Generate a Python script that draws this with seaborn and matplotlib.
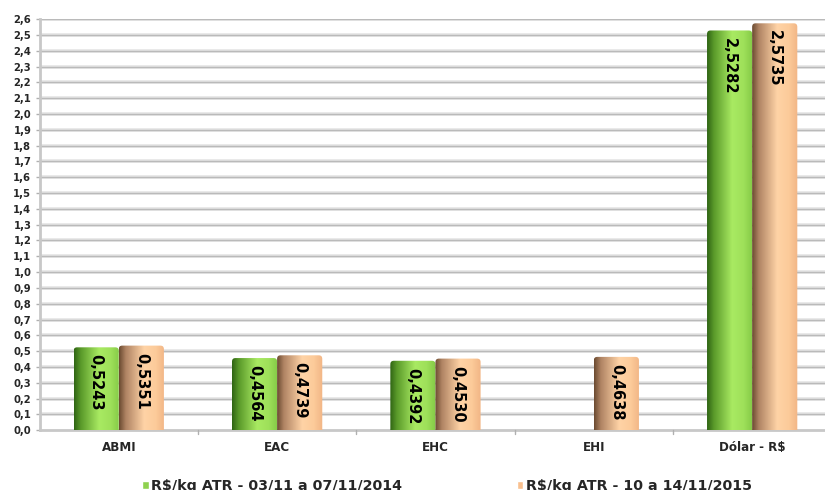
import numpy as np
import pandas as pd
import matplotlib
matplotlib.use("Agg")
import matplotlib.pyplot as plt
import seaborn as sns
from matplotlib.colors import LinearSegmentedColormap
from matplotlib.patches import Patch, FancyBboxPatch

categories = ["ABMI", "EAC", "EHC", "EHI", "Dólar - R$"]
series_names = ["R$/kg ATR - 03/11 a 07/11/2014", "R$/kg ATR - 10 a 14/11/2015"]
values_2014 = [0.5243, 0.4564, 0.4392, np.nan, 2.5282]
values_2015 = [0.5351, 0.4739, 0.4530, 0.4638, 2.5735]
yticks = [round(i * 0.1, 1) for i in range(27)]

df = pd.DataFrame({
    "cat": categories * 2,
    "serie": [series_names[0]] * 5 + [series_names[1]] * 5,
    "val": values_2014 + values_2015,
})

sns.set_theme(style="white")
plt.rcParams["font.family"] = ["DejaVu Sans"]

fig = plt.figure(figsize=(8.25, 4.9), dpi=100)
ax = fig.add_axes([0.048, 0.122, 0.952, 0.839])

palette = {series_names[0]: "#8fd14f", series_names[1]: "#f9c08f"}
sns.barplot(data=df, x="cat", y="val", hue="serie", order=categories,
            hue_order=series_names, palette=palette, width=0.57,
            ax=ax, legend=False, saturation=1, zorder=3)

ax.set_ylim(0, 2.6)
ax.set_xlim(-0.5, 4.46)
ax.set_yticks(yticks)
ax.set_yticklabels([f"{t:.1f}".replace(".", ",") for t in yticks],
                   fontsize=7.2, fontweight="bold")
ax.set_xticks(range(5))
ax.set_xticklabels(categories, fontsize=8.6, fontweight="bold")
ax.tick_params(axis="x", length=0, pad=8)
ax.tick_params(axis="y", length=3, width=1, color="#b0b0b0", direction="out", pad=3, left=True)
for b in [0.5, 1.5, 2.5, 3.5]:
    ax.plot([b, b], [0, -0.025], color="#b0b0b0", lw=1, clip_on=False, zorder=4)
ax.set_xlabel("")
ax.set_ylabel("")
ax.grid(False)
for t in yticks[1:]:
    ax.axhline(t, color="#e4e4e4", lw=2.6, zorder=1)
    ax.axhline(t, color="#bababa", lw=1.0, zorder=1)
for s in ["top", "right"]:
    ax.spines[s].set_visible(False)
ax.spines["left"].set_color("#c8c8c8")
ax.spines["left"].set_linewidth(2)
ax.spines["bottom"].set_color("#c8c8c8")
ax.spines["bottom"].set_linewidth(2)

cmaps = [
    LinearSegmentedColormap.from_list("g", [(0, "#2f6414"), (0.15, "#5a9a2a"), (0.55, "#a9ea62"), (0.8, "#9ee05a"), (1, "#84c946")]),
    LinearSegmentedColormap.from_list("o", [(0, "#6a4a30"), (0.15, "#b08464"), (0.55, "#ffd3a6"), (0.8, "#fccb9a"), (1, "#f2b585")]),
]
grad = np.linspace(0, 1, 256).reshape(1, -1)
for ci, cont in enumerate(ax.containers):
    for p in cont.patches:
        h = p.get_height()
        if not np.isfinite(h) or h == 0:
            continue
        x0, w = p.get_x(), p.get_width()
        p.set_alpha(0)
        clip = FancyBboxPatch((x0, -0.05), w, h + 0.05,
                              boxstyle="round,pad=0,rounding_size=0.022",
                              transform=ax.transData, facecolor="none", edgecolor="none")
        ax.add_patch(clip)
        im = ax.imshow(grad, cmap=cmaps[ci], aspect="auto",
                       extent=[x0, x0 + w, 0, h], zorder=3.5, interpolation="bilinear")
        im.set_clip_path(clip)
        ax.text(x0 + w / 2, h - 0.045, f"{h:.4f}".replace(".", ","), rotation=-90,
                ha="center", va="top", fontsize=10.5, fontweight="bold",
                color="black", zorder=5)
ax.set_xlim(-0.5, 4.46)
ax.set_ylim(0, 2.6)

handles = [Patch(facecolor="#8fd14f"), Patch(facecolor="#f9c08f")]
fig.legend(handles, series_names, loc="center", bbox_to_anchor=(0.542, 0.008),
           ncol=2, frameon=False, handlelength=0.45, handleheight=0.45,
           handletextpad=0.2, columnspacing=8.0,
           prop={"size": 10.3, "weight": "bold"})

fig.savefig("out.png", dpi=100)
